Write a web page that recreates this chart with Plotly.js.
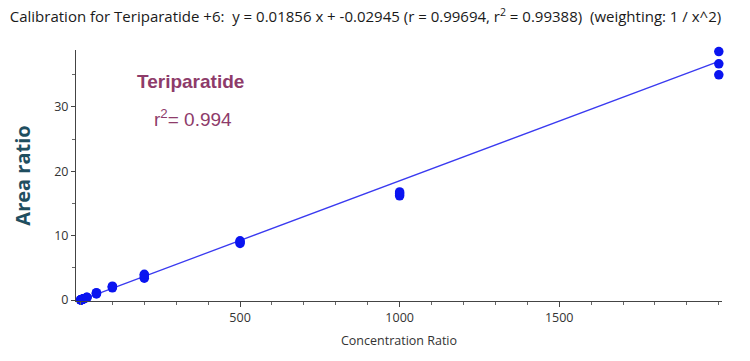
<!DOCTYPE html>
<html>
<head>
<meta charset="utf-8">
<script src="https://cdn.plot.ly/plotly-3.0.1.min.js"></script>
<style>html,body{margin:0;padding:0;background:#fff}#chart{width:750px;height:361px}</style>
</head>
<body>
<div id="chart"></div>
<script>
// Calibration standards (concentration ratio) and measured area ratios (replicates)
const concentration = [1, 1, 1, 2, 2, 2, 5, 5, 5, 10, 10, 10, 20, 20, 20, 50, 50, 50, 100, 100, 100, 200, 200, 200, 500, 500, 500, 1000, 1000, 1000, 2000, 2000, 2000];
const areaRatio = [0.02, 0.02, 0.03, 0.04, 0.04, 0.05, 0.10, 0.11, 0.09, 0.19, 0.21, 0.20, 0.40, 0.42, 0.38, 0.95, 1.05, 1.15, 1.90, 2.05, 2.15, 3.40, 3.75, 4.00, 8.80, 9.00, 9.20, 16.2, 16.5, 16.8, 35.0, 36.7, 38.6];
// Regression line endpoints (fit: y = 0.01856 x - 0.02945)
const slope = 0.01856;
const intercept = -0.02945;
const fitX = [1, 2000];
const fitY = fitX.map(x => slope * x + intercept);

const xTickVals = [500, 1000, 1500];
const yTickVals = [0, 10, 20, 30];

const font = "'Open Sans', 'DejaVu Sans', sans-serif";

const traces = [
  {
    x: fitX, y: fitY, mode: 'lines', type: 'scatter', cliponaxis: false,
    line: {color: '#3a3af0', width: 1.3}, hoverinfo: 'skip', showlegend: false
  },
  {
    x: concentration, y: areaRatio, mode: 'markers', type: 'scatter', cliponaxis: false,
    marker: {color: '#0a14f0', size: 9.5}, showlegend: false
  }
];

const layout = {
  width: 750, height: 361,
  margin: {l: 76, r: 28, t: 50, b: 60},
  paper_bgcolor: '#ffffff', plot_bgcolor: '#ffffff',
  font: {family: font, color: '#333', size: 12},
  title: {
    text: 'Calibration for Teriparatide +6:  y = 0.01856 x + -0.02945 (r = 0.99694, r<sup>2</sup> = 0.99388)  (weighting: 1 / x^2)',
    x: 0.013, xanchor: 'left', y: 0.953, yanchor: 'middle',
    font: {family: "'Open Sans', sans-serif", size: 15, color: '#1a1a1a'}
  },
  xaxis: {
    range: [-14, 2010], showgrid: false, zeroline: false,
    showline: true, linecolor: '#444', linewidth: 1,
    ticks: 'outside', ticklen: 5, tickcolor: '#444',
    tickvals: xTickVals, ticktext: xTickVals.map(String),
    minor: {dtick: 100, tick0: 0, ticks: 'outside', ticklen: 3, tickcolor: '#666', showgrid: false},
    tickfont: {size: 12.5, color: '#333'},
    title: {text: 'Concentration Ratio', font: {size: 12.5, color: '#333'}, standoff: 11}
  },
  yaxis: {
    range: [-0.15, 38.85], showgrid: false, zeroline: false,
    showline: true, linecolor: '#444', linewidth: 1,
    ticks: 'outside', ticklen: 4, tickcolor: '#444',
    tickvals: yTickVals, ticktext: yTickVals.map(String),
    minor: {dtick: 5, tick0: 0, ticks: 'outside', ticklen: 3, tickcolor: '#666', showgrid: false},
    tickfont: {size: 12.5, color: '#333'},
    title: {text: '<b>Area ratio</b>', font: {family: "'Open Sans', sans-serif", size: 20, color: '#1f4e5f'}, standoff: 18}
  },
  annotations: [
    {xref: 'paper', yref: 'paper', x: 0.092, y: 0.874, xanchor: 'left', yanchor: 'middle', showarrow: false,
     text: '<b>Teriparatide</b>', font: {family: "'Liberation Sans', Arial, sans-serif", size: 19, color: '#8e3b6a'}},
    {xref: 'paper', yref: 'paper', x: 0.117, y: 0.728, xanchor: 'left', yanchor: 'middle', showarrow: false,
     text: 'r<sup>2</sup>= 0.994', font: {family: "'Liberation Sans', Arial, sans-serif", size: 19, color: '#8e3b6a'}}
  ]
};

Plotly.newPlot('chart', traces, layout, {displayModeBar: false, staticPlot: true});
</script>
</body>
</html>
